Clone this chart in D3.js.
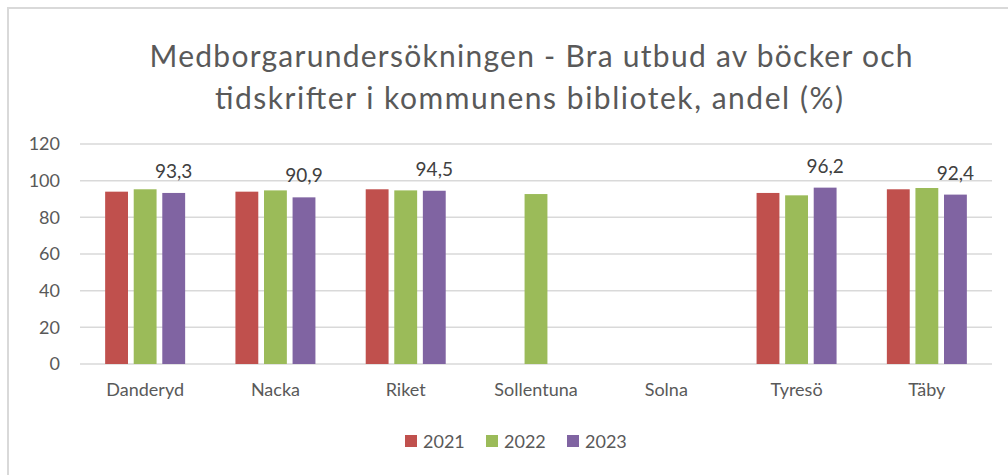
<!DOCTYPE html>
<html>
<head>
<meta charset="utf-8">
<script src="https://cdn.jsdelivr.net/npm/d3@7"></script>
<style>
  body { margin: 0; background: #fff; }
  svg { display: block; font-family: Lato, "Open Sans", sans-serif; }
</style>
</head>
<body>
<div id="chart"></div>
<script>
// data
const categories = ['Danderyd', 'Nacka', 'Riket', 'Sollentuna', 'Solna', 'Tyresö', 'Täby']
const years = ['2021', '2022', '2023']
const values2021 = [94.0, 94.0, 95.3, null, null, 93.3, 95.3]
const values2022 = [95.3, 94.7, 94.7, 92.7, null, 92.0, 96.0]
const values2023 = [93.3, 90.9, 94.5, null, null, 96.2, 92.4]
const yTicks = [0, 20, 40, 60, 80, 100, 120]
const colors = ['#c0504d', '#9bbb59', '#8064a2']
const titleLines = ['Medborgarundersökningen  - Bra utbud av böcker och', 'tidskrifter i kommunens  bibliotek, andel (%)']
const titleWidths = [763, 628]

const series = [values2021, values2022, values2023]

const width = 1008, height = 475
const margin = { left: 80, right: 16, top: 144, bottom: 111 }
const innerW = width - margin.left - margin.right
const innerH = height - margin.top - margin.bottom

const svg = d3.select('#chart').append('svg')
    .attr('width', width)
    .attr('height', height)

// outer chart frame (only top and left visible)
svg.append('path')
    .attr('d', 'M8,' + height + ' L8,8 L' + width + ',8')
    .attr('fill', 'none')
    .attr('stroke', '#d9d9d9')
    .attr('stroke-width', 2)

// title
const title = svg.append('text')
    .attr('text-anchor', 'middle')
    .attr('fill', '#595959')
    .style('font-size', '30px')
title.selectAll('tspan')
    .data(titleLines)
    .enter()
    .append('tspan')
    .attr('x', (d, i) => i == 0 ? 531 : 529)
    .attr('y', (d, i) => 67 + i * 42)
    .attr('textLength', (d, i) => titleWidths[i])
    .attr('lengthAdjust', 'spacing')
    .text(d => d)

const x0 = d3.scaleBand().domain(categories).range([0, innerW]).paddingInner(0).paddingOuter(0)
const x1 = d3.scaleBand().domain(years).range([x0.bandwidth() / 2 - 40, x0.bandwidth() / 2 + 40]).paddingInner(0.2)
const y = d3.scaleLinear().domain([0, 120]).range([innerH, 0])

const g = svg.append('g')
    .attr('transform', 'translate(' + margin.left + ',' + margin.top + ')')

// gridlines
g.append('g')
    .selectAll('line')
    .data(yTicks)
    .enter()
    .append('line')
    .attr('x1', 0)
    .attr('x2', innerW)
    .attr('y1', d => y(d))
    .attr('y2', d => y(d))
    .attr('stroke', '#d9d9d9')
    .attr('stroke-width', 1.5)

// y axis labels
const yAxis = g.append('g')
    .call(d3.axisLeft(y).tickValues(yTicks).tickSize(0).tickPadding(20))
yAxis.select('.domain').remove()
yAxis.selectAll('text')
    .attr('fill', '#595959')
    .style('font-size', '18px')
    .style('font-family', 'Lato, "Open Sans", sans-serif')

// x axis labels
const xAxis = g.append('g')
    .attr('transform', 'translate(0,' + innerH + ')')
    .call(d3.axisBottom(x0).tickSize(0).tickPadding(19))
xAxis.select('.domain').remove()
xAxis.selectAll('text')
    .attr('fill', '#595959')
    .style('font-size', '18px')
    .style('font-family', 'Lato, "Open Sans", sans-serif')

// bars
const rows = []
categories.forEach((c, i) => {
    years.forEach((yr, j) => {
        if (series[j][i] != null) rows.push({ cat: c, year: yr, idx: j, value: series[j][i] })
    })
})

g.append('g')
    .selectAll('rect')
    .data(rows)
    .enter()
    .append('rect')
    .attr('x', d => x0(d.cat) + x1(d.year))
    .attr('y', d => y(d.value))
    .attr('width', x1.bandwidth())
    .attr('height', d => innerH - y(d.value))
    .attr('fill', d => colors[d.idx])

// data labels on 2023 only
g.append('g')
    .selectAll('text')
    .data(rows.filter(d => d.year === '2023'))
    .enter()
    .append('text')
    .attr('x', d => x0(d.cat) + x1(d.year) + x1.bandwidth() / 2)
    .attr('y', d => y(d.value) - 15)
    .attr('text-anchor', 'middle')
    .attr('fill', '#404040')
    .style('font-size', '19px')
    .text(d => d.value.toFixed(1).replace('.', ','))

// legend
const legend = svg.append('g')
    .attr('transform', 'translate(405,441)')
years.forEach((yr, i) => {
    const item = legend.append('g').attr('transform', 'translate(' + (i * 81) + ',0)')
    item.append('rect')
        .attr('x', 0)
        .attr('y', -6)
        .attr('width', 12)
        .attr('height', 12)
        .attr('fill', colors[i])
    item.append('text')
        .attr('x', 18)
        .attr('y', 6.5)
        .attr('fill', '#595959')
        .style('font-size', '18px')
        .text(yr)
})
</script>
</body>
</html>
